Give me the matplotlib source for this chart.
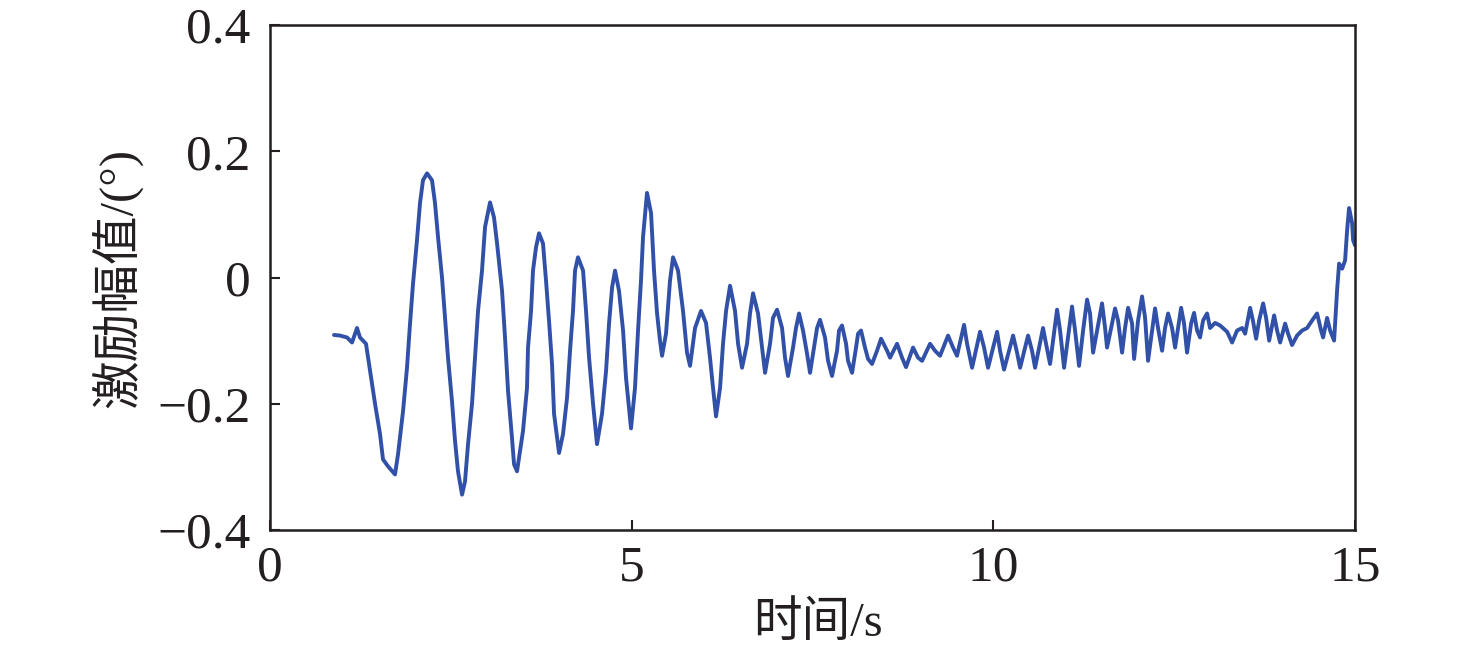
import numpy as np
import matplotlib
matplotlib.use("Agg")
import matplotlib.pyplot as plt

# time (s) and excitation amplitude (deg)
t = [0.885, 0.968, 1.065, 1.134, 1.203, 1.244, 1.327, 1.383, 1.452, 1.521,
     1.562, 1.631, 1.728, 1.770, 1.839, 1.894, 1.936, 1.977, 2.032, 2.074,
     2.115, 2.171, 2.240, 2.281, 2.323, 2.378, 2.420, 2.461, 2.516, 2.558,
     2.599, 2.655, 2.696, 2.738, 2.793, 2.834, 2.876, 2.931, 2.973, 3.042,
     3.097, 3.139, 3.208, 3.249, 3.291, 3.346, 3.374, 3.415, 3.498, 3.553,
     3.567, 3.609, 3.636, 3.678, 3.719, 3.774, 3.816, 3.857, 3.899, 3.927,
     3.996, 4.051, 4.106, 4.148, 4.189, 4.217, 4.258, 4.328, 4.369, 4.411,
     4.466, 4.521, 4.590, 4.646, 4.687, 4.729, 4.770, 4.825, 4.881, 4.922,
     4.991, 5.046, 5.088, 5.129, 5.157, 5.212, 5.268, 5.309, 5.351, 5.392,
     5.420, 5.475, 5.530, 5.572, 5.641, 5.710, 5.765, 5.807, 5.876, 5.959,
     6.028, 6.083, 6.125, 6.166, 6.222, 6.263, 6.305, 6.360, 6.429, 6.471,
     6.526, 6.595, 6.636, 6.678, 6.747, 6.802, 6.844, 6.913, 6.954, 7.010,
     7.079, 7.120, 7.162, 7.231, 7.272, 7.314, 7.369, 7.425, 7.466, 7.521,
     7.563, 7.604, 7.673, 7.715, 7.770, 7.839, 7.867, 7.908, 7.964, 7.991,
     8.047, 8.102, 8.130, 8.171, 8.226, 8.268, 8.323, 8.392, 8.448, 8.531,
     8.572, 8.669, 8.738, 8.793, 8.890, 8.959, 9.015, 9.125, 9.194, 9.263,
     9.374, 9.443, 9.498, 9.595, 9.637, 9.706, 9.816, 9.872, 9.927, 10.052,
     10.093, 10.148, 10.273, 10.328, 10.370, 10.480, 10.535, 10.577, 10.687, 10.715,
     10.784, 10.881, 10.923, 10.978, 11.088, 11.130, 11.185, 11.241, 11.296, 11.337,
     11.379, 11.434, 11.503, 11.545, 11.572, 11.641, 11.683, 11.724, 11.780, 11.821,
     11.863, 11.918, 11.946, 12.001, 12.056, 12.098, 12.139, 12.195, 12.236, 12.277,
     12.333, 12.374, 12.416, 12.471, 12.513, 12.554, 12.596, 12.637, 12.678, 12.734,
     12.775, 12.817, 12.858, 12.900, 12.955, 12.996, 13.066, 13.135, 13.232, 13.301,
     13.370, 13.440, 13.481, 13.550, 13.592, 13.633, 13.675, 13.730, 13.771, 13.813,
     13.882, 13.923, 13.965, 14.034, 14.075, 14.130, 14.199, 14.269, 14.338, 14.407,
     14.476, 14.531, 14.559, 14.614, 14.656, 14.711, 14.752, 14.780, 14.822, 14.863,
     14.891, 14.918, 14.960, 14.974, 15.000]

amp = [-0.091, -0.092, -0.095, -0.103, -0.080, -0.095, -0.105, -0.148, -0.200, -0.248,
       -0.288, -0.299, -0.312, -0.280, -0.212, -0.143, -0.073, -0.010, 0.059, 0.118,
       0.154, 0.165, 0.154, 0.118, 0.064, 0.000, -0.064, -0.127, -0.196, -0.259,
       -0.307, -0.344, -0.323, -0.264, -0.200, -0.127, -0.053, 0.011, 0.080, 0.119,
       0.095, 0.054, -0.021, -0.095, -0.180, -0.255, -0.296, -0.307, -0.243, -0.175,
       -0.111, -0.053, 0.011, 0.048, 0.070, 0.054, -0.005, -0.068, -0.137, -0.216,
       -0.278, -0.248, -0.191, -0.116, -0.053, 0.011, 0.032, 0.011, -0.053, -0.127,
       -0.200, -0.264, -0.216, -0.148, -0.073, -0.016, 0.011, -0.021, -0.084, -0.159,
       -0.239, -0.175, -0.084, -0.005, 0.064, 0.134, 0.102, 0.011, -0.057, -0.100,
       -0.124, -0.089, -0.005, 0.032, 0.011, -0.053, -0.119, -0.140, -0.080, -0.053,
       -0.072, -0.127, -0.175, -0.220, -0.175, -0.105, -0.053, -0.013, -0.053, -0.105,
       -0.143, -0.105, -0.057, -0.025, -0.057, -0.111, -0.151, -0.105, -0.064, -0.051,
       -0.080, -0.127, -0.156, -0.111, -0.080, -0.057, -0.084, -0.121, -0.151, -0.111,
       -0.080, -0.067, -0.095, -0.132, -0.156, -0.116, -0.084, -0.076, -0.105, -0.132,
       -0.151, -0.111, -0.089, -0.084, -0.111, -0.129, -0.137, -0.116, -0.097, -0.116,
       -0.127, -0.105, -0.127, -0.142, -0.111, -0.127, -0.132, -0.105, -0.116, -0.124,
       -0.092, -0.111, -0.124, -0.075, -0.105, -0.143, -0.086, -0.111, -0.143, -0.086,
       -0.116, -0.146, -0.092, -0.119, -0.143, -0.092, -0.116, -0.143, -0.080, -0.097,
       -0.137, -0.051, -0.084, -0.143, -0.046, -0.084, -0.140, -0.084, -0.035, -0.057,
       -0.119, -0.084, -0.041, -0.080, -0.111, -0.073, -0.049, -0.068, -0.119, -0.080,
       -0.048, -0.073, -0.129, -0.068, -0.030, -0.064, -0.132, -0.084, -0.049, -0.080,
       -0.116, -0.080, -0.057, -0.080, -0.111, -0.080, -0.048, -0.073, -0.119, -0.073,
       -0.056, -0.084, -0.095, -0.068, -0.057, -0.080, -0.072, -0.076, -0.086, -0.103,
       -0.084, -0.080, -0.089, -0.048, -0.070, -0.097, -0.068, -0.041, -0.064, -0.100,
       -0.060, -0.084, -0.103, -0.073, -0.089, -0.107, -0.092, -0.084, -0.080, -0.068,
       -0.057, -0.084, -0.095, -0.064, -0.084, -0.100, -0.021, 0.022, 0.014, 0.027,
       0.075, 0.110, 0.086, 0.059, 0.051]

xticks = [0, 5, 10, 15]
yticks = [-0.4, -0.2, 0, 0.2, 0.4]
ytick_labels = ["\u22120.4", "\u22120.2", "0", "0.2", "0.4"]

serif = ["Liberation Serif", "Noto Sans CJK SC"]
plt.rcParams["font.family"] = serif
plt.rcParams["axes.unicode_minus"] = True

fig = plt.figure(figsize=(14.76, 6.62), dpi=100)
ax = fig.add_axes([270/1476, 132/662, 1085/1476, 505/662])

ax.plot(t, amp, color="#3150a8", lw=2.8, solid_joinstyle="round",
        solid_capstyle="round")

ax.set_xlim(0, 15)
ax.set_ylim(-0.4, 0.4)
ax.set_xticks(xticks)
ax.set_yticks(yticks)
ax.set_yticklabels(ytick_labels)

for s in ax.spines.values():
    s.set_linewidth(1.8)
    s.set_color("#231f20")
ax.tick_params(direction="in", length=7, width=1.5, colors="#231f20",
               labelsize=37, top=False, right=False)
ax.tick_params(axis="x", pad=11)
ax.tick_params(axis="y", pad=14)

ax.set_xlabel("时间/s", fontsize=35, family=serif, color="#231f20")
ax.set_ylabel("激励幅值/(°)", fontsize=35, family=serif, color="#231f20")
ax.xaxis.set_label_coords(0.505, -0.14)
ax.yaxis.set_label_coords(-0.118, 0.5)

fig.savefig("out.png", dpi=100)
